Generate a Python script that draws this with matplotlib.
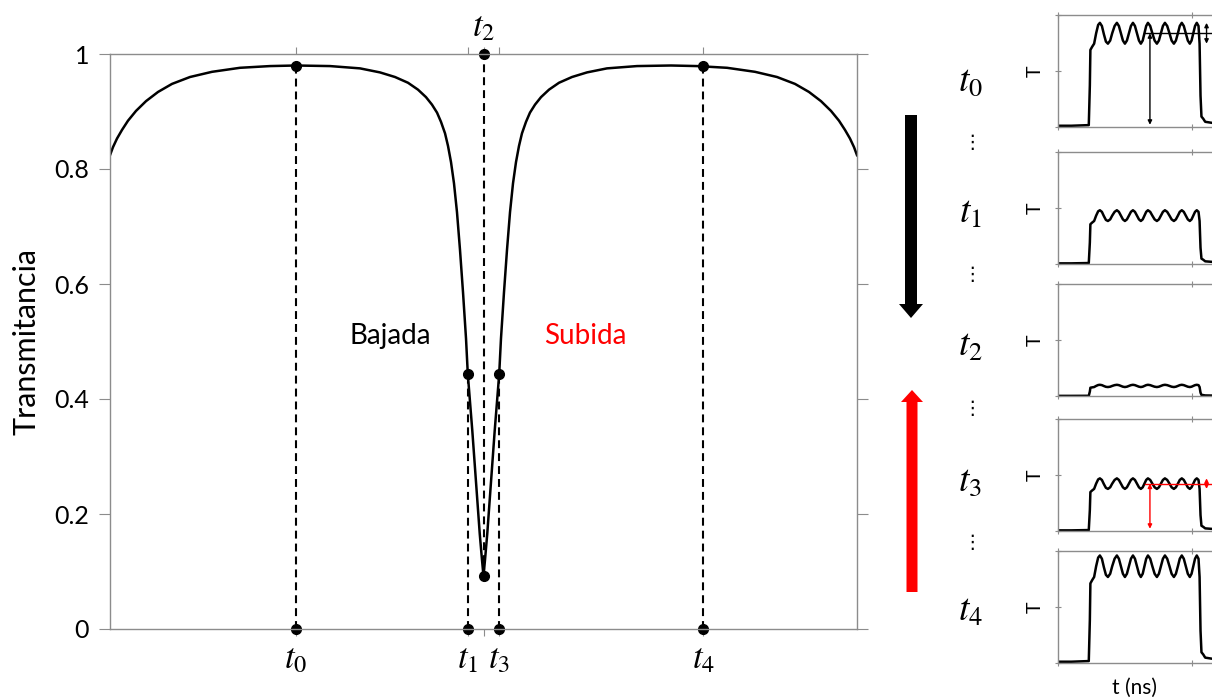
import numpy as np
import matplotlib.pyplot as plt
from matplotlib.patches import FancyArrow

plt.rcParams['font.family'] = ['Lato', 'DejaVu Sans']
plt.rcParams['mathtext.fontset'] = 'stix'

# curva de transmitancia (tiempo normalizado 0..1)
x_left = [0.000, 0.004, 0.0094, 0.0161, 0.0241, 0.0348, 0.0482, 0.0643, 0.0830, 0.1071,
          0.1365, 0.1740, 0.2142, 0.249, 0.2945, 0.3347, 0.3614, 0.3815, 0.3989, 0.4123,
          0.4230, 0.4310, 0.4378, 0.4431, 0.4485, 0.4525, 0.4565, 0.4605, 0.4645, 0.4685,
          0.4726, 0.4766, 0.479, 0.485, 0.490, 0.495, 0.498, 0.500]
T_left = [0.824, 0.838, 0.853, 0.868, 0.884, 0.901, 0.918, 0.934, 0.948, 0.960,
          0.969, 0.976, 0.979, 0.980, 0.979, 0.975, 0.968, 0.960, 0.950, 0.938,
          0.925, 0.912, 0.898, 0.882, 0.862, 0.840, 0.812, 0.775, 0.725, 0.660,
          0.585, 0.505, 0.443, 0.345, 0.255, 0.165, 0.120, 0.092]
x_right = [0.502, 0.505, 0.510, 0.515, 0.521, 0.5234, 0.5274, 0.5315, 0.5355, 0.5395,
           0.5435, 0.5475, 0.5515, 0.5569, 0.5622, 0.5690, 0.5770, 0.5877, 0.6011, 0.6185,
           0.6386, 0.6653, 0.7055, 0.751, 0.7858, 0.826, 0.8635, 0.8929, 0.917, 0.9357,
           0.9518, 0.9652, 0.9759, 0.9839, 0.9906, 0.996, 1.000]
T_right = [0.120, 0.165, 0.255, 0.345, 0.443, 0.505, 0.585, 0.660, 0.725, 0.775,
           0.812, 0.840, 0.862, 0.882, 0.898, 0.912, 0.925, 0.938, 0.950, 0.960,
           0.968, 0.975, 0.979, 0.980, 0.979, 0.976, 0.969, 0.960, 0.948, 0.934,
           0.918, 0.901, 0.884, 0.868, 0.853, 0.838, 0.824]

t_names = ['$t_0$', '$t_1$', '$t_2$', '$t_3$', '$t_4$']
t_pos = [0.249, 0.479, 0.500, 0.521, 0.794]
t_val = [0.980, 0.443, 0.092, 0.443, 0.980]

y_ticks = [0, 0.2, 0.4, 0.6, 0.8, 1]
y_ticklabels = ['0', '0.2', '0.4', '0.6', '0.8', '1']

# pulso medido (ns) normalizado al maximo del rizado
pulse_t = [0.0, 1.0, 2.30, 2.38, 2.42, 2.55, 2.70, 2.85, 3.00, 3.13,
           3.28, 3.43, 3.58, 3.73, 3.90, 4.05, 4.23, 4.40, 4.55, 4.70,
           4.85, 5.00, 5.15, 5.30, 5.45, 5.60, 5.75, 5.90, 6.05, 6.19,
           6.33, 6.46, 6.59, 6.72, 6.89, 7.05, 7.22, 7.39, 7.54, 7.69,
           7.84, 7.99, 8.16, 8.33, 8.49, 8.66, 8.81, 8.96, 9.10, 9.25,
           9.40, 9.55, 9.70, 9.85, 9.98, 10.11, 10.24, 10.37, 10.50, 10.58,
           10.65, 10.72, 10.85, 11.0, 11.5, 12.0, 13.6]
pulse_shape = [0.012, 0.012, 0.018, 0.40, 0.74, 0.77, 0.80, 0.90, 0.98, 1.00,
               0.97, 0.89, 0.82, 0.80, 0.83, 0.90, 0.97, 1.00, 0.97, 0.90,
               0.83, 0.80, 0.83, 0.90, 0.97, 1.00, 0.97, 0.90, 0.83, 0.80,
               0.83, 0.90, 0.97, 1.00, 0.97, 0.90, 0.83, 0.80, 0.83, 0.90,
               0.97, 1.00, 0.97, 0.90, 0.83, 0.80, 0.83, 0.90, 0.97, 1.00,
               0.97, 0.90, 0.83, 0.80, 0.83, 0.90, 0.97, 1.00, 0.97, 0.80,
               0.30, 0.10, 0.08, 0.05, 0.04, 0.035, 0.035]
pulse_level = [0.93, 0.48, 0.10, 0.47, 0.96]
pulse_marked = {0: 'black', 3: 'red'}

W, H = 1212, 700
gray = '#8c8c8c'

fig = plt.figure(figsize=(W / 100, H / 100), dpi=100)

# grafico principal
ax = fig.add_axes([110 / W, 71 / H, 747 / W, 575 / H])
ax.plot(x_left + x_right, T_left + T_right, color='black', lw=1.8)
for i, (tp, tv) in enumerate(zip(t_pos, t_val)):
    if i == 2:
        ax.plot([tp, tp], [tv, 1], color='black', lw=1.5, dashes=(3.8, 2.4))
        ax.plot([tp, tp], [tv, 1], 'ko', ms=7, clip_on=False)
    else:
        ax.plot([tp, tp], [0, tv], color='black', lw=1.5, dashes=(3.8, 2.4))
        ax.plot([tp, tp], [0, tv], 'ko', ms=7, clip_on=False)

ax.set_xlim(0, 1)
ax.set_ylim(0, 1)
ax.set_yticks(y_ticks)
ax.set_yticklabels(y_ticklabels)
ax.set_xticks(t_pos)
ax.set_xticklabels([n if i != 2 else '' for i, n in enumerate(t_names)], fontsize=25)
ax.tick_params(axis='y', direction='out', length=8, right=True, labelsize=18,
               color=gray, pad=7)
ax.tick_params(axis='x', direction='out', length=5, top=True, color=gray, pad=5)
ax.annotate(t_names[2], xy=(t_pos[2], 1), xytext=(0, 8), textcoords='offset points',
            ha='center', va='bottom', fontsize=25)
for s in ax.spines.values():
    s.set_color(gray)
    s.set_linewidth(1)
ax.set_ylabel('Transmitancia', fontsize=22, labelpad=10)

ax.text(0.375, 0.51, 'Bajada', fontsize=20, ha='center', va='center')
ax.text(0.636, 0.51, 'Subida', fontsize=20, ha='center', va='center', color='red')

# capa en pixeles para flechas y etiquetas
ov = fig.add_axes([0, 0, 1, 1])
ov.set_xlim(0, W)
ov.set_ylim(H, 0)
ov.axis('off')
ov.add_patch(FancyArrow(911, 115, 0, 203, width=12, head_width=24, head_length=14,
                        length_includes_head=True, color='black', lw=0))
ov.add_patch(FancyArrow(912, 592, 0, -202, width=11, head_width=22, head_length=12,
                        length_includes_head=True, color='red', lw=0))

label_y = [80, 212, 345, 480, 610]
for name, y in zip(t_names, label_y):
    ov.text(970, y, name, fontsize=27, ha='center', va='center')
for y in label_y[:-1]:
    ov.text(972, y + 63, '\u22ee', fontsize=14, ha='center', va='center',
            family=['DejaVu Sans'])
ov.text(1135, 688, 't (ns)', fontsize=15, ha='center', va='center')

# pulsos en cada instante
panel_bottom = [127, 264, 396, 531, 663]
for i, (b, lev) in enumerate(zip(panel_bottom, pulse_level)):
    axp = fig.add_axes([1058 / W, (H - b) / H, 182 / W, 112 / H])
    axp.plot(pulse_t, np.array(pulse_shape) * lev, color='black', lw=1.8)
    axp.set_xlim(0, 13.6)
    axp.set_ylim(0, 1)
    axp.set_xticks([0, 10])
    axp.set_yticks([0, 0.5, 1])
    axp.set_xticklabels([])
    axp.set_yticklabels([])
    axp.tick_params(direction='inout', length=4, color=gray, top=True)
    for s in axp.spines.values():
        s.set_color(gray)
        s.set_linewidth(1)
    axp.set_ylabel('T', fontsize=14, labelpad=5)
    if i in pulse_marked:
        c = pulse_marked[i]
        mean = 0.9 * lev
        axp.plot([6.5, 11.4], [mean, mean], color=c, lw=1)
        axp.annotate('', xy=(6.87, 0.02), xytext=(6.87, mean),
                     arrowprops=dict(arrowstyle='<|-|>', color=c, lw=1,
                                     mutation_scale=6, shrinkA=0, shrinkB=0))
        axp.annotate('', xy=(11.1, 0.8 * lev), xytext=(11.1, lev),
                     arrowprops=dict(arrowstyle='<|-|>', color=c, lw=1,
                                     mutation_scale=6, shrinkA=0, shrinkB=0))

fig.savefig('out.png', dpi=100)
